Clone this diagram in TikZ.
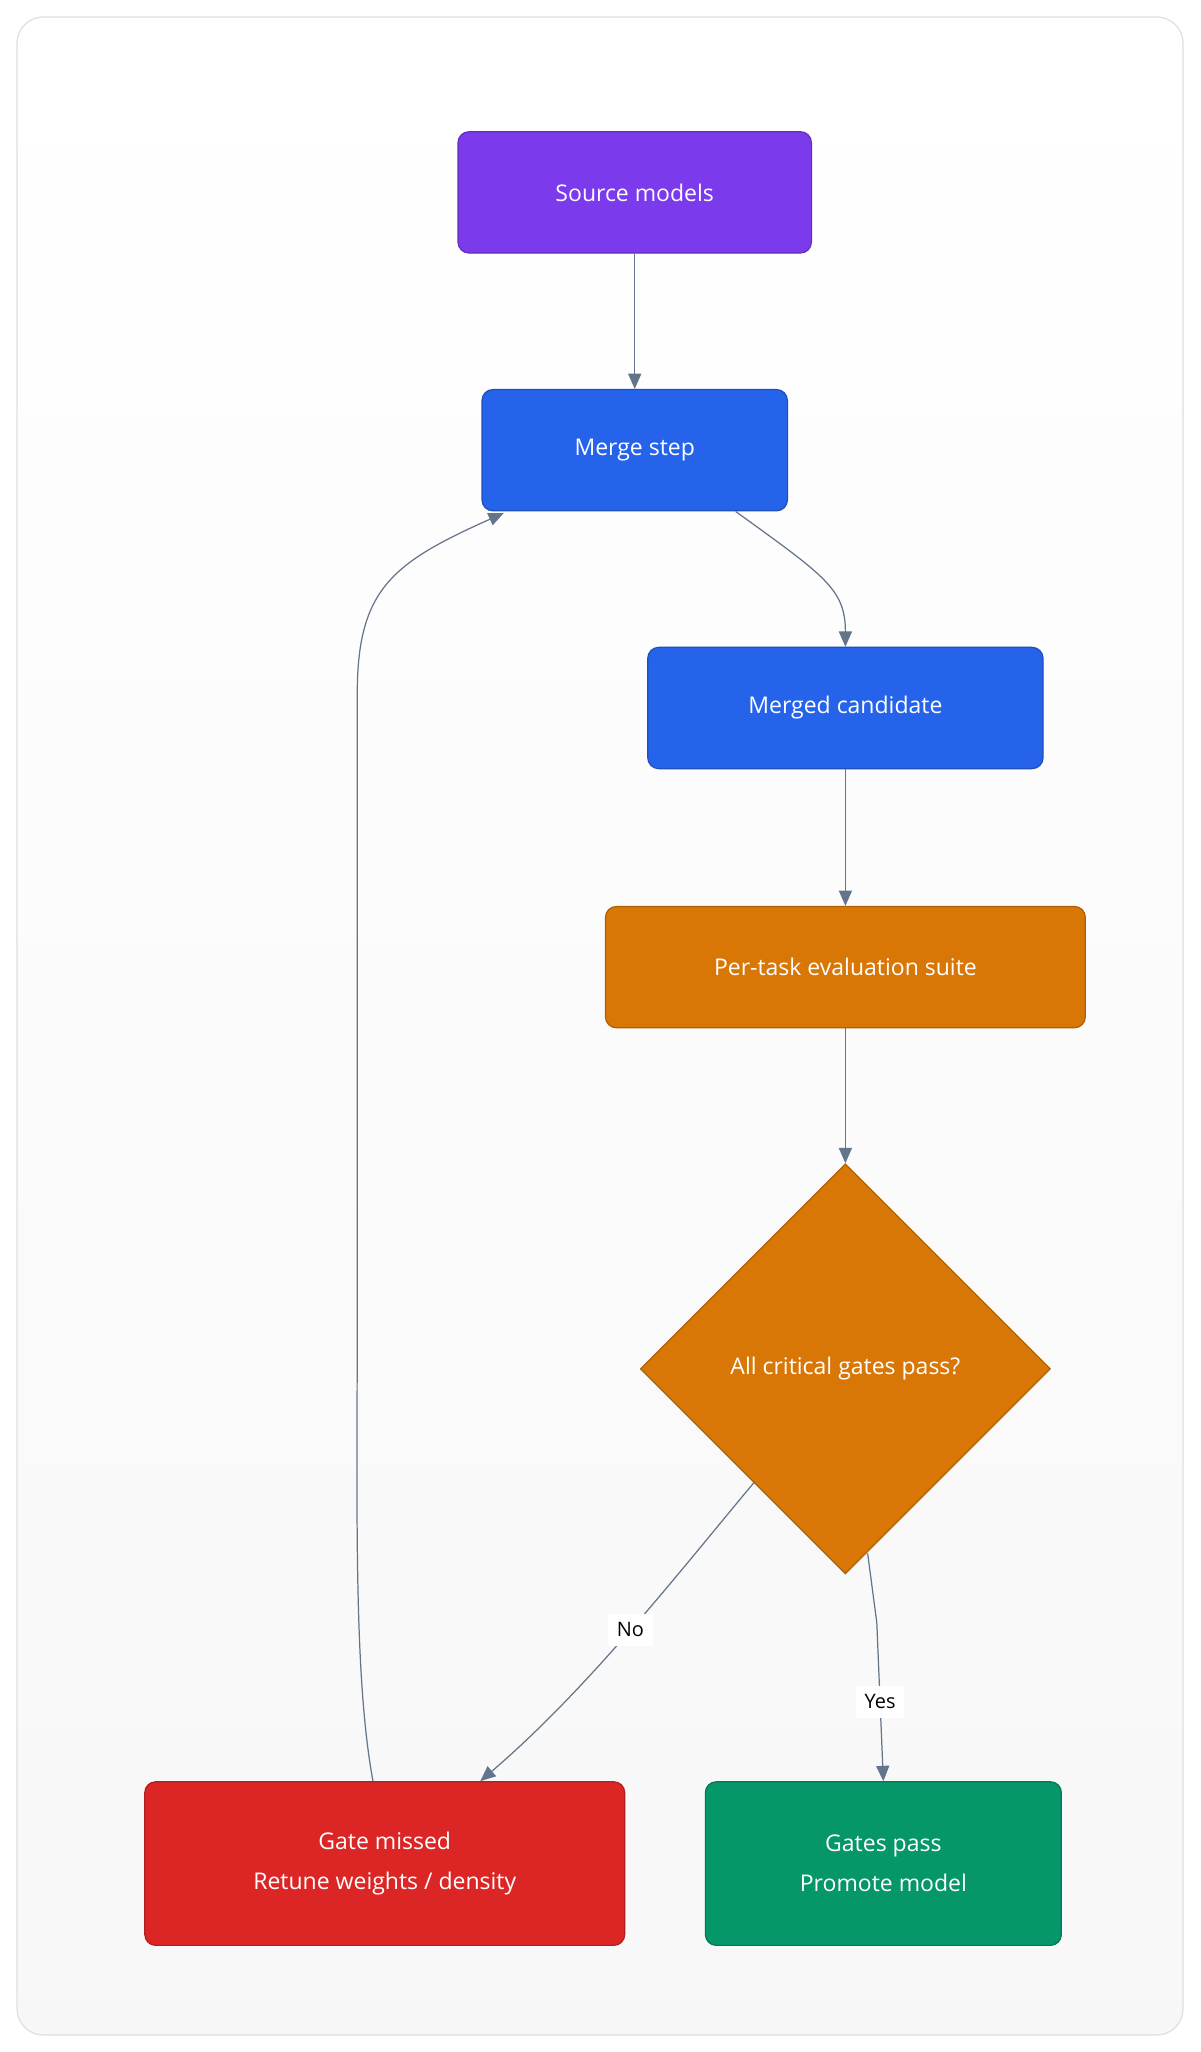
\documentclass[tikz,border=0pt]{standalone}
\usepackage{fontspec}
\setmainfont{Open Sans}
\usetikzlibrary{shapes.geometric,arrows.meta,positioning}
\definecolor{edgec}{RGB}{100,116,139}
\definecolor{purplec}{RGB}{124,58,237}
\definecolor{bluec}{RGB}{37,99,235}
\definecolor{orangec}{RGB}{217,119,6}
\definecolor{redc}{RGB}{220,38,38}
\definecolor{greenc}{RGB}{5,150,105}
\tikzset{
	stage/.style={
		rectangle, rounded corners=2.5mm, minimum height=2.78cm, text=white,
		font=\fontsize{15}{26}\selectfont, align=center, thick
	},
	%
	gate/.style={
		diamond, aspect=1, minimum size=9.4cm, inner sep=0pt, text=white,
		font=\fontsize{15}{26}\selectfont, thick
	},
	%
	flow/.style={
		-{Triangle[length=3.5mm,width=3mm]}, edgec, thick
	},
	%
	tag/.style={
		fill=white, text=black, font=\fontsize{13}{16}\selectfont, inner sep=2mm
	}
}
\begin{document}
\begin{tikzpicture}[x=0.03cm,y=-0.03cm]
\useasboundingbox (0,0) rectangle (917,1568);
\shade[top color=white, bottom color=gray!6, draw=gray!25, thick, rounded corners=6mm]
	(13,13) rectangle (904,1555);

\node(source)[stage, minimum width=8.1cm, fill=purplec, draw=purplec!80!black] at (485,147) {Source models};
\node(merge)[stage, minimum width=7.0cm, fill=bluec, draw=bluec!80!black] at (485,344) {Merge step};
\node(cand)[stage, minimum width=9.06cm, fill=bluec, draw=bluec!80!black] at (646,541) {Merged candidate};
\node(suite)[stage, minimum width=11cm, fill=orangec, draw=orangec!80!black] at (646,739) {Per-task evaluation suite};
\node(check)[gate, fill=orangec, draw=orangec!80!black] at (646,1046) {All critical gates pass?};
\node(missed)[stage, minimum width=11cm, minimum height=3.75cm, fill=redc, draw=redc!80!black] at (294,1424) {Gate missed\\Retune weights / density};
\node(pass)[stage, minimum width=8.16cm, minimum height=3.75cm, fill=greenc, draw=greenc!80!black] at (675,1424) {Gates pass\\Promote model};

\draw[flow] (merge.south east) ++(-40,0) .. controls (630,440) and (646,450) .. (cand.north);
\draw[flow] (source) -- (merge);
\draw[flow] (cand) -- (suite);
\draw[flow] (suite) -- (check);
\draw[flow] (576,1133) .. controls (520,1200) and (450,1290) .. node[tag, pos=0.5]{No} (367,1361);
\draw[flow] (663,1187) -- (670,1240) -- node[tag]{Yes} (675,1361);
\draw[flow] (285,1361) .. controls (270,1280) and (273,1150) .. (273,1000)
	-- (273,530) .. controls (273,450) and (300,430) .. (385,392);
\end{tikzpicture}
\end{document}
